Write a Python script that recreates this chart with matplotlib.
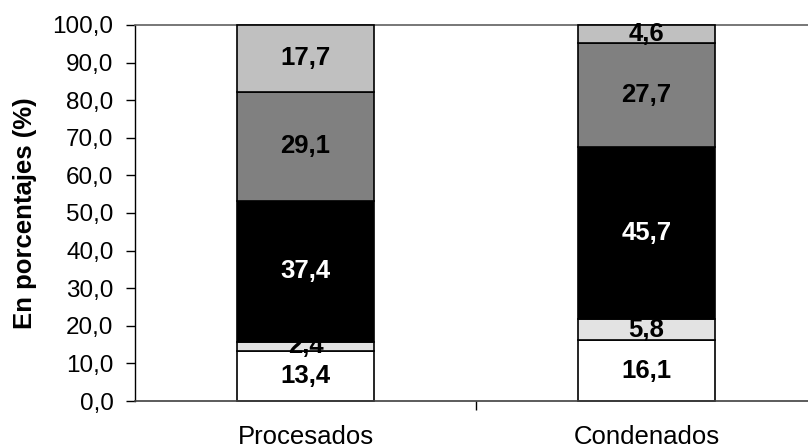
import matplotlib
matplotlib.use("Agg")
import matplotlib.pyplot as plt
import numpy as np

plt.rcParams['font.family'] = ['Liberation Sans', 'DejaVu Sans']

categories = ["Procesados", "Condenados"]
series_values = [
    [13.4, 16.1],
    [2.4, 5.8],
    [37.4, 45.7],
    [29.1, 27.7],
    [17.7, 4.6],
]
series_colors = ["#ffffff", "#e3e3e3", "#000000", "#808080", "#c0c0c0"]
label_colors = ["black", "black", "white", "black", "black"]
yticks = [0, 10, 20, 30, 40, 50, 60, 70, 80, 90, 100]
ylabel = "En porcentajes (%)"

fig = plt.figure(figsize=(8.08, 4.48), dpi=100)
ax = fig.add_axes([135/808, 1-401/448, (817-135)/808, (401-25)/448])

x = np.arange(len(categories))
bottom = np.zeros(len(categories))
for i, vals in enumerate(series_values):
    vals = np.array(vals)
    ax.bar(x, vals, width=0.4, bottom=bottom, color=series_colors[i],
           edgecolor="black", linewidth=1.2, zorder=2 + 2 * i, clip_on=False)
    for xi, v, b in zip(x, vals, bottom):
        ax.text(xi, b + v / 2, f"{v:.1f}".replace(".", ","), ha="center", va="center",
                fontsize=18.5, fontweight="bold", color=label_colors[i],
                zorder=3 + 2 * i)
    bottom += vals

ax.set_xlim(-0.5, 1.5)
ax.set_ylim(0, 100)
ax.set_yticks(yticks)
ax.set_yticklabels([f"{t:.1f}".replace(".", ",") for t in yticks], fontsize=17.5)
ax.set_xticks([0.5], minor=False)
ax.set_xticklabels([])
ax.set_xticks(x, minor=True)
ax.set_xticklabels(categories, minor=True, fontsize=18.5)
ax.tick_params(axis="x", which="minor", length=0, pad=17)
ax.tick_params(axis="x", which="major", length=6.5, width=1, direction="out")
ax.tick_params(axis="y", length=6.5, width=1, direction="out", pad=9)
ax.set_ylabel(ylabel, fontsize=18.5, fontweight="bold", labelpad=11)

ax.spines["right"].set_visible(False)
ax.spines["top"].set_color("#606060")
ax.spines["top"].set_linewidth(1.2)
ax.spines["left"].set_linewidth(1.0)
ax.spines["bottom"].set_color("#404040")
ax.spines["bottom"].set_linewidth(1.2)

fig.savefig("out.png", dpi=100)
